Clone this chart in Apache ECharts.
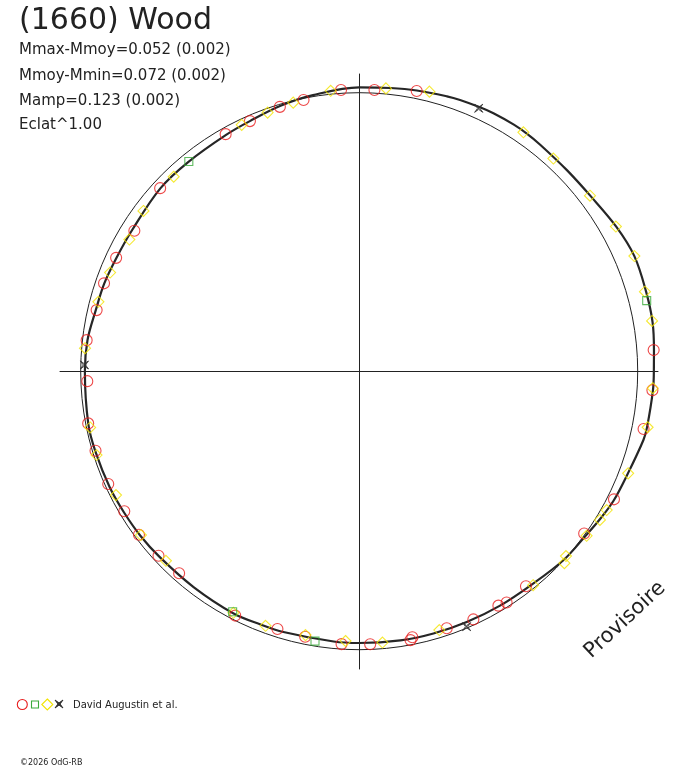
<!DOCTYPE html>
<html>
<head>
<meta charset="utf-8">
<script src="https://cdn.jsdelivr.net/npm/echarts@6/dist/echarts.min.js"></script>
<style>
html,body{margin:0;padding:0;background:#fff;}
#chart{width:688px;height:768px;}
</style>
</head>
<body>
<div id="chart"></div>
<script>
// ---- data (phase in degrees, counter-clockwise from +x ; radius relative to reference circle) ----
const titleText = '(1660) Wood';
const statLines = ['Mmax-Mmoy=0.052 (0.002)', 'Mmoy-Mmin=0.072 (0.002)', 'Mamp=0.123 (0.002)', 'Eclat^1.00'];
const legendLabel = 'David Augustin et al.';
const copyrightText = '\u00a92026 OdG-RB';
const watermarkText = 'Provisoire';

const curvePhase = [0, 4, 9.5, 15.5, 22.7, 29.3, 37.1, 44, 51.3, 54.8, 57.9, 62.5, 65.4, 69.6, 72.3, 78.4, 83.7, 90, 99.5, 106.5, 113.6, 119.3, 129.2, 137.4, 148, 155, 161, 167, 173.5, 180, 191, 197, 205, 211, 217, 223, 232.5, 242.6, 248.6, 253.8, 264.6, 270, 278.7, 285.8, 293.2, 301, 308.6, 317.2, 324, 328.6, 333, 339, 346.4, 349, 356.3, 360];
const curveRadius = [1.058, 1.061, 1.068, 1.069, 1.071, 1.059, 1.042, 1.038, 1.041, 1.044, 1.045, 1.044, 1.042, 1.039, 1.036, 1.029, 1.023, 1.019, 1.005, 0.994, 0.980, 0.974, 0.970, 0.970, 0.960, 0.962, 0.968, 0.971, 0.982, 0.985, 0.991, 0.990, 0.988, 0.985, 0.983, 0.979, 0.977, 0.980, 0.976, 0.975, 0.975, 0.976, 0.978, 0.979, 0.980, 0.982, 0.985, 0.999, 1.005, 1.015, 1.025, 1.032, 1.050, 1.053, 1.057, 1.058];

const redPhase = [106.7, 101.6, 93.7, 86.9, 78.4, 113.6, 119.4, 137.4, 148.0, 155.0, 161.0, 166.9, 173.5, 182.1, 190.9, 196.8, 204.2, 210.8, 216.6, 222.6, 228.3, 243.1, 252.4, 258.5, 266.3, 272.3, 280.8, 281.3, 288.8, 294.7, 300.7, 302.5, 307.8, 324.2, 333.3, 348.5, 356.3, 4.1];
const redRadius = [0.991, 0.994, 1.012, 1.011, 1.027, 0.980, 0.977, 0.971, 0.952, 0.963, 0.969, 0.968, 0.985, 0.977, 0.991, 0.989, 0.988, 0.982, 0.985, 0.979, 0.972, 0.984, 0.971, 0.973, 0.982, 0.981, 0.983, 0.974, 0.975, 0.981, 0.979, 0.985, 0.977, 0.996, 1.024, 1.042, 1.055, 1.060];

const yellowPhase = [103.8, 95.8, 84.6, 75.9, 55.5, 47.6, 37.25, 29.4, 22.7, 15.55, 9.73, 356.7, 349.0, 339.2, 330.7, 328.3, 324.1, 318.2, 316.9, 309.1, 287.2, 274.9, 267.1, 258.5, 249.8, 242.5, 224.45, 216.9, 207.0, 197.7, 191.8, 175.2, 165.1, 158.4, 150.2, 143.4, 133.65, 115.5, 109.5];
const yellowRadius = [0.993, 1.012, 1.020, 1.035, 1.041, 1.034, 1.041, 1.058, 1.071, 1.065, 1.067, 1.056, 1.055, 1.033, 1.019, 1.016, 1.008, 0.996, 1.009, 0.990, 0.973, 0.978, 0.970, 0.967, 0.974, 0.978, 0.972, 0.980, 0.980, 0.990, 0.987, 0.988, 0.969, 0.962, 0.951, 0.965, 0.965, 0.980, 0.985];

const greenPhase = [129.1, 13.8, 260.7, 242.25];
const greenRadius = [0.970, 1.063, 0.982, 0.976];

const starPhase = [65.56, 178.7, 292.8];
const starRadius = [1.037, 0.987, 0.995];

// ---- build ----
function pairs(rs, ps) { return rs.map((r, i) => [r, ps[i]]); }

const FONT = 'DejaVu Sans';
const INK = '#222222';
const RED = '#e81c1c';
const YELLOW = '#f2e400';
const GREEN = '#3aaa3a';
const STAR_PATH = 'path://M0,0 L5,3.5 L10,0 L6.5,5 L10,10 L5,6.5 L0,10 L3.5,5 Z M0,0 L10,10 M10,0 L0,10';

const CENTER = [359.2, 371.2];
const UNIT = 278.5;          // pixel radius of the reference circle
const RMAX = 1.09;           // outer limit of the data polar system

const hiddenAxis = {
  axisLine: { show: false }, axisTick: { show: false }, axisLabel: { show: false }, splitLine: { show: false }
};

const chart = echarts.init(document.getElementById('chart'), null, { renderer: 'canvas' });

const option = {
  backgroundColor: '#ffffff',
  animation: false,
  grid: { left: 60, right: 30, top: 74, bottom: 99, containLabel: false },
  xAxis: {
    type: 'value', min: -1, max: 1,
    axisLine: { show: true, onZero: true, lineStyle: { color: INK, width: 1 } },
    axisTick: { show: false }, axisLabel: { show: false }, splitLine: { show: false }
  },
  yAxis: {
    type: 'value', min: -1, max: 1,
    axisLine: { show: true, onZero: true, lineStyle: { color: INK, width: 1 } },
    axisTick: { show: false }, axisLabel: { show: false }, splitLine: { show: false }
  },
  polar: [
    { center: CENTER, radius: UNIT * RMAX },
    { center: CENTER, radius: UNIT }
  ],
  angleAxis: [
    Object.assign({ polarIndex: 0, type: 'value', min: 0, max: 360, startAngle: 0, clockwise: false }, hiddenAxis),
    {
      polarIndex: 1, type: 'value', min: 0, max: 360, startAngle: 0, clockwise: false,
      axisLine: { show: true, lineStyle: { color: INK, width: 1 } },
      axisTick: { show: false }, axisLabel: { show: false }, splitLine: { show: false }
    }
  ],
  radiusAxis: [
    Object.assign({ polarIndex: 0, type: 'value', min: 0, max: RMAX }, hiddenAxis),
    Object.assign({ polarIndex: 1, type: 'value', min: 0, max: 1 }, hiddenAxis)
  ],
  series: [
    {
      type: 'line', coordinateSystem: 'polar', polarIndex: 0, name: 'fit',
      data: pairs(curveRadius, curvePhase),
      smooth: 0.35, symbol: 'none', clip: false,
      lineStyle: { color: '#262626', width: 2.2 }, z: 3
    },
    {
      type: 'scatter', coordinateSystem: 'polar', polarIndex: 0, name: 'red',
      data: pairs(redRadius, redPhase), clip: false,
      symbol: 'circle', symbolSize: 11,
      itemStyle: { color: 'rgba(0,0,0,0)', borderColor: RED, borderWidth: 1.1 }, z: 4
    },
    {
      type: 'scatter', coordinateSystem: 'polar', polarIndex: 0, name: 'yellow',
      data: pairs(yellowRadius, yellowPhase), clip: false,
      symbol: 'diamond', symbolSize: 11,
      itemStyle: { color: 'rgba(0,0,0,0)', borderColor: YELLOW, borderWidth: 1.1 }, z: 4
    },
    {
      type: 'scatter', coordinateSystem: 'polar', polarIndex: 0, name: 'green',
      data: pairs(greenRadius, greenPhase), clip: false,
      symbol: 'rect', symbolSize: 8,
      itemStyle: { color: 'rgba(0,0,0,0)', borderColor: GREEN, borderWidth: 1.1 }, z: 4
    },
    {
      type: 'scatter', coordinateSystem: 'polar', polarIndex: 0, name: 'star',
      data: pairs(starRadius, starPhase), clip: false,
      symbol: STAR_PATH, symbolSize: 8,
      itemStyle: { color: 'rgba(0,0,0,0)', borderColor: '#333', borderWidth: 1 }, z: 4
    }
  ],
  graphic: [
    { type: 'text', x: 19, y: 21, style: { text: titleText, font: '30px "' + FONT + '"', fill: INK, verticalAlign: 'middle', align: 'left' } },
    ...statLines.map((t, i) => ({
      type: 'text', x: 19, y: [50, 76, 101, 125][i],
      style: { text: t, font: '15px "' + FONT + '"', fill: INK, verticalAlign: 'middle', align: 'left' }
    })),
    { type: 'text', x: 625, y: 620, rotation: 0.75,
      style: { text: watermarkText, font: '21px "' + FONT + '"', fill: INK, align: 'center', verticalAlign: 'middle' } },
    { type: 'circle', shape: { cx: 22.3, cy: 704.5, r: 5 }, style: { fill: 'none', stroke: RED, lineWidth: 1.1 } },
    { type: 'rect', shape: { x: 31.5, y: 701, width: 7, height: 7 }, style: { fill: 'none', stroke: GREEN, lineWidth: 1.1 } },
    { type: 'polygon', shape: { points: [[47.3, 699], [52.8, 704.5], [47.3, 710], [41.8, 704.5]] }, style: { fill: 'none', stroke: YELLOW, lineWidth: 1.1 } },
    { type: 'polygon', shape: { points: [[55, 700], [59, 702.8], [63, 700], [60.2, 704], [63, 708], [59, 705.2], [55, 708], [57.8, 704]] },
      style: { fill: 'none', stroke: '#333', lineWidth: 1 } },
    { type: 'line', shape: { x1: 55, y1: 700, x2: 63, y2: 708 }, style: { stroke: '#333', lineWidth: 1 } },
    { type: 'line', shape: { x1: 63, y1: 700, x2: 55, y2: 708 }, style: { stroke: '#333', lineWidth: 1 } },
    { type: 'text', x: 73, y: 705, style: { text: legendLabel, font: '10px "' + FONT + '"', fill: INK, verticalAlign: 'middle' } },
    { type: 'text', x: 20, y: 763, style: { text: copyrightText, font: '8px "' + FONT + '"', fill: INK, verticalAlign: 'middle' } }
  ]
};
chart.setOption(option);
</script>
</body>
</html>
